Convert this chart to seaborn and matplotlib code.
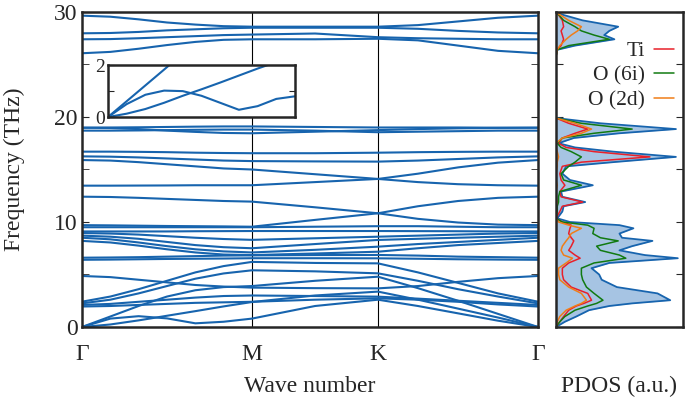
import numpy as np
import pandas as pd
import seaborn as sns
import matplotlib
matplotlib.use('Agg')
import matplotlib.pyplot as plt

# k-path distances (Gamma - M - K - Gamma), 13 sample points
k_dist = [0.000, 0.167, 0.333, 0.500, 0.667, 0.833, 1.000,
          1.371, 1.741, 1.976, 2.212, 2.447, 2.682]
k_ticks = [0.0, 1.0, 1.741, 2.682]
k_labels = ['Γ', 'M', 'K', 'Γ']

# phonon branches (THz)
top_bands = [
    [29.65, 29.55, 29.3, 29.0, 28.8, 28.65, 28.6, 28.6, 28.6, 28.75, 29.1, 29.45, 29.65],
    [27.97, 28.0, 28.1, 28.25, 28.35, 28.45, 28.5, 28.5, 28.5, 28.4, 28.2, 28.05, 27.97],
    [27.4, 27.42, 27.5, 27.6, 27.7, 27.8, 27.85, 27.95, 27.6, 27.5, 27.45, 27.4, 27.4],
    [26.07, 26.2, 26.5, 26.85, 27.15, 27.35, 27.4, 27.4, 27.45, 27.3, 26.8, 26.3, 26.07],
]
mid_bands = [
    [18.98, 19.0, 19.02, 19.05, 19.08, 19.1, 19.1, 19.05, 19.0, 19.0, 19.0, 18.98, 18.98],
    [18.98, 18.95, 18.85, 18.7, 18.58, 18.48, 18.45, 18.6, 18.75, 18.85, 18.92, 18.96, 18.98],
    [18.7, 18.7, 18.72, 18.75, 18.78, 18.8, 18.8, 18.7, 18.55, 18.6, 18.65, 18.7, 18.7],
    [16.7, 16.7, 16.68, 16.65, 16.6, 16.57, 16.55, 16.55, 16.6, 16.65, 16.68, 16.7, 16.7],
    [16.25, 16.22, 16.15, 16.05, 15.95, 15.85, 15.8, 15.77, 15.75, 15.85, 16.0, 16.15, 16.25],
    [15.9, 15.85, 15.7, 15.5, 15.3, 15.1, 15.0, 14.55, 14.1, 13.8, 13.6, 13.5, 13.46],
    [13.46, 13.46, 13.47, 13.48, 13.5, 13.5, 13.5, 13.8, 14.1, 14.6, 15.2, 15.65, 15.9],
    [12.41, 12.38, 12.3, 12.2, 12.1, 12.0, 11.94, 11.4, 10.83, 10.3, 9.95, 9.75, 9.7],
    [9.7, 9.68, 9.65, 9.62, 9.6, 9.58, 9.55, 10.2, 10.83, 11.5, 12.0, 12.3, 12.41],
]
low_bands = [
    [9.5, 9.5, 9.5, 9.5, 9.5, 9.5, 9.5, 9.55, 9.6, 9.6, 9.55, 9.5, 9.5],
    [9.1, 9.1, 9.1, 9.1, 9.12, 9.13, 9.14, 9.14, 9.14, 9.13, 9.12, 9.1, 9.1],
    [8.95, 8.9, 8.8, 8.65, 8.5, 8.38, 8.3, 8.45, 8.6, 8.7, 8.8, 8.9, 8.95],
    [8.7, 8.6, 8.4, 8.1, 7.8, 7.6, 7.5, 7.9, 8.29, 8.4, 8.5, 8.6, 8.7],
    [8.5, 8.35, 8.05, 7.7, 7.4, 7.2, 7.1, 7.35, 7.65, 7.9, 8.1, 8.3, 8.5],
    [8.2, 8.05, 7.75, 7.4, 7.1, 6.9, 6.85, 7.0, 7.17, 7.5, 7.8, 8.0, 8.2],
    [6.6, 6.62, 6.65, 6.7, 6.75, 6.8, 6.82, 6.85, 6.86, 6.8, 6.7, 6.65, 6.6],
    [6.4, 6.42, 6.45, 6.48, 6.5, 6.52, 6.55, 6.55, 6.54, 6.5, 6.45, 6.42, 6.4],
]
acoustic_bands = [
    [4.86, 4.75, 4.5, 4.25, 4.0, 3.85, 3.75, 3.7, 3.68, 3.9, 4.3, 4.65, 4.86],
    [2.41, 2.9, 3.6, 4.4, 5.2, 5.8, 6.2, 6.1, 6.06, 5.2, 4.2, 3.2, 2.41],
    [2.25, 2.6, 3.2, 3.9, 4.6, 5.1, 5.4, 5.3, 5.11, 4.4, 3.6, 2.9, 2.25],
    [2.1, 2.2, 2.4, 2.6, 2.8, 2.95, 3.0, 2.95, 2.89, 2.7, 2.5, 2.3, 2.1],
    [1.95, 2.0, 2.1, 2.2, 2.3, 2.35, 2.4, 2.6, 2.73, 2.6, 2.4, 2.15, 1.95],
    [0.0, 0.8, 1.03, 0.82, 0.35, 0.5, 0.8, 2.0, 2.6, 2.0, 1.3, 0.6, 0.0],
    [0.0, 0.24, 0.63, 1.07, 1.51, 1.96, 2.38, 3.0, 3.37, 2.6, 1.75, 0.9, 0.0],
    [0.0, 1.0, 2.0, 2.9, 3.5, 3.8, 3.9, 4.4, 4.79, 3.7, 2.5, 1.25, 0.0],
]

# inset: three acoustic branches along Gamma-M, read at finer steps
inset_k = [0.0, 0.1, 0.2, 0.3, 0.4, 0.5, 0.6, 0.7, 0.8, 0.9, 1.0]
inset_ta1 = [0.0, 0.5, 0.86, 1.02, 1.0, 0.82, 0.55, 0.28, 0.42, 0.7, 0.8]
inset_ta2 = [0.0, 0.13, 0.31, 0.55, 0.82, 1.07, 1.33, 1.6, 1.87, 2.12, 2.38]
inset_la = [0.0, 0.61, 1.22, 1.83, 2.45, 3.0, 3.4, 3.7, 3.85, 3.9, 3.9]

# PDOS (arbitrary units)
dos_freq = [0.0, 0.5, 1.0, 1.6, 2.0, 2.25, 2.55, 3.2, 3.8, 4.5, 5.0, 5.6, 6.1, 6.55, 6.85,
            7.3, 7.7, 8.2, 8.5, 8.9, 9.4, 9.7, 10.0, 10.35, 11.0, 11.5, 11.9, 12.4, 12.9,
            13.5, 14.0, 14.6, 15.3, 15.7, 16.2, 16.7, 17.1, 17.5, 18.0, 18.45, 18.85, 19.4,
            19.9, 25.8, 26.4, 26.8, 27.4, 27.8, 28.2, 28.6, 29.2, 29.9, 30.0]
dos_total = [0, 0.07, 0.16, 0.26, 0.42, 0.6, 0.9, 0.8, 0.48, 0.36, 0.34, 0.28, 0.42, 0.96, 0.7,
             0.5, 0.6, 0.76, 0.52, 0.5, 0.61, 0.5, 0.11, 0.01, 0.05, 0.06, 0.23, 0.05, 0.04,
             0.29, 0.11, 0.05, 0.08, 0.45, 0.945, 0.45, 0.15, 0.02, 0.14, 0.5, 0.945, 0.35,
             0.0, 0, 0.01, 0.15, 0.46, 0.38, 0.42, 0.49, 0.21, 0.005, 0]
dos_ti = [0, 0.03, 0.06, 0.1, 0.16, 0.22, 0.28, 0.25, 0.12, 0.06, 0.05, 0.05, 0.1, 0.19, 0.15,
          0.1, 0.12, 0.14, 0.12, 0.1, 0.11, 0.12, 0.05, 0.0, 0.03, 0.05, 0.21, 0.04, 0.03,
          0.07, 0.04, 0.03, 0.05, 0.2, 0.74, 0.3, 0.08, 0.02, 0.05, 0.15, 0.25, 0.1,
          0, 0, 0.01, 0.04, 0.06, 0.05, 0.04, 0.06, 0.05, 0.01, 0]
dos_o6i = [0, 0.03, 0.07, 0.15, 0.25, 0.32, 0.37, 0.3, 0.24, 0.21, 0.2, 0.2, 0.3, 0.55, 0.5,
           0.35, 0.32, 0.49, 0.35, 0.29, 0.3, 0.25, 0.05, 0.0, 0.01, 0.01, 0.02, 0.02, 0.03,
           0.2, 0.06, 0.04, 0.1, 0.15, 0.2, 0.12, 0.04, 0.01, 0.05, 0.3, 0.6, 0.2,
           0, 0, 0.01, 0.1, 0.42, 0.3, 0.2, 0.15, 0.06, 0.01, 0]
dos_o2d = [0, 0.01, 0.03, 0.08, 0.15, 0.2, 0.24, 0.2, 0.1, 0.03, 0.02, 0.02, 0.08, 0.13, 0.06,
           0.04, 0.05, 0.08, 0.1, 0.12, 0.2, 0.1, 0.02, 0, 0.0, 0.0, 0.01, 0.0, 0.0,
           0.01, 0.0, 0.0, 0.01, 0.01, 0.02, 0.01, 0.0, 0.0, 0.05, 0.2, 0.28, 0.15,
           0, 0, 0.01, 0.03, 0.08, 0.12, 0.17, 0.2, 0.1, 0.01, 0]

blue = '#1764ae'
fill_blue = '#a6c4e3'
red = '#e8202a'
green = '#117a11'
orange = '#f07d18'

all_bands = top_bands + mid_bands + low_bands + acoustic_bands
rows = []
for i, b in enumerate(all_bands):
    for k, f in zip(k_dist, b):
        rows.append((i, k, f))
band_df = pd.DataFrame(rows, columns=['band', 'k', 'freq'])

inset_rows = []
for i, b in enumerate([inset_ta1, inset_ta2, inset_la]):
    for k, f in zip(inset_k, b):
        inset_rows.append((i, k, f))
inset_df = pd.DataFrame(inset_rows, columns=['band', 'k', 'freq'])

dos_df = pd.DataFrame({'freq': dos_freq, 'total': dos_total, 'Ti': dos_ti,
                       'O (6i)': dos_o6i, 'O (2d)': dos_o2d})

sns.set_style('ticks')
plt.rcParams['font.family'] = ['Liberation Serif', 'DejaVu Serif']
plt.rcParams['mathtext.fontset'] = 'stix'

FS = 17

fig = plt.figure(figsize=(6.86, 4.05), dpi=100)
ax = fig.add_axes([0.1195, 0.1926, 0.6647, 0.7778])
sns.lineplot(data=band_df, x='k', y='freq', units='band', estimator=None,
             color=blue, lw=1.5, ax=ax, legend=False)
ax.set_xlim(k_dist[0], k_dist[-1])
ax.set_ylim(0, 30)
for x in k_ticks[1:-1]:
    ax.axvline(x, color='k', lw=0.8, zorder=0)
ax.set_xticks(k_ticks)
ax.set_xticklabels(k_labels, fontsize=FS)
ax.tick_params(axis='x', length=0, pad=12)
ax.set_yticks([0, 10, 20, 30])
ax.set_yticks([5, 15, 25], minor=True)
ax.tick_params(axis='y', which='both', direction='in', right=True, length=5,
               labelsize=FS, pad=3)
ax.set_xlabel('Wave number', fontsize=FS)
ax.set_ylabel('Frequency (THz)', fontsize=FS)
ax.xaxis.set_label_coords(0.5, -0.155)
ax.yaxis.set_label_coords(-0.125, 0.5)
for s in ax.spines.values():
    s.set_linewidth(1.8)

# inset: acoustic branches along Gamma-M
axi = fig.add_axes([0.1574, 0.711, 0.2726, 0.128])
sns.lineplot(data=inset_df, x='k', y='freq', units='band', estimator=None,
             color=blue, lw=1.5, ax=axi, legend=False)
axi.set_xlim(0, 1.0)
axi.set_ylim(0, 2)
axi.set_xticks([])
axi.set_yticks([0, 1, 2])
axi.set_yticklabels(['0', '', '2'])
axi.tick_params(axis='y', direction='in', right=True, length=4, labelsize=14, pad=2)
axi.set_xlabel('')
axi.set_ylabel('')
for s in axi.spines.values():
    s.set_linewidth(1.8)

# PDOS panel
axd = fig.add_axes([0.8105, 0.1926, 0.185, 0.7778])
axd.fill_betweenx(dos_df['freq'], 0, dos_df['total'], color=fill_blue, lw=0)
sns.lineplot(data=dos_df, x='total', y='freq', orient='y', color=blue, lw=1.3, ax=axd)
sns.lineplot(data=dos_df, x='Ti', y='freq', orient='y', color=red, lw=1.1, ax=axd, label='Ti')
sns.lineplot(data=dos_df, x='O (6i)', y='freq', orient='y', color=green, lw=1.1, ax=axd, label='O (6i)')
sns.lineplot(data=dos_df, x='O (2d)', y='freq', orient='y', color=orange, lw=1.1, ax=axd, label='O (2d)')
axd.set_xlim(0, 1.0)
axd.set_ylim(0, 30)
axd.set_xticks([])
axd.set_yticks(np.arange(0, 31, 5))
axd.tick_params(axis='y', direction='in', right=True, length=5, labelleft=False)
axd.set_ylabel('')
axd.set_xlabel('PDOS (a.u.)', fontsize=FS)
axd.xaxis.set_label_coords(0.5, -0.155)
for s in axd.spines.values():
    s.set_linewidth(1.8)
axd.legend(loc='upper right', bbox_to_anchor=(1.0, 0.935), frameon=False, markerfirst=False,
           fontsize=15.5, handlelength=0.95, handletextpad=0.4, labelspacing=0.22,
           borderaxespad=0)

fig.savefig('out.png', dpi=100)
